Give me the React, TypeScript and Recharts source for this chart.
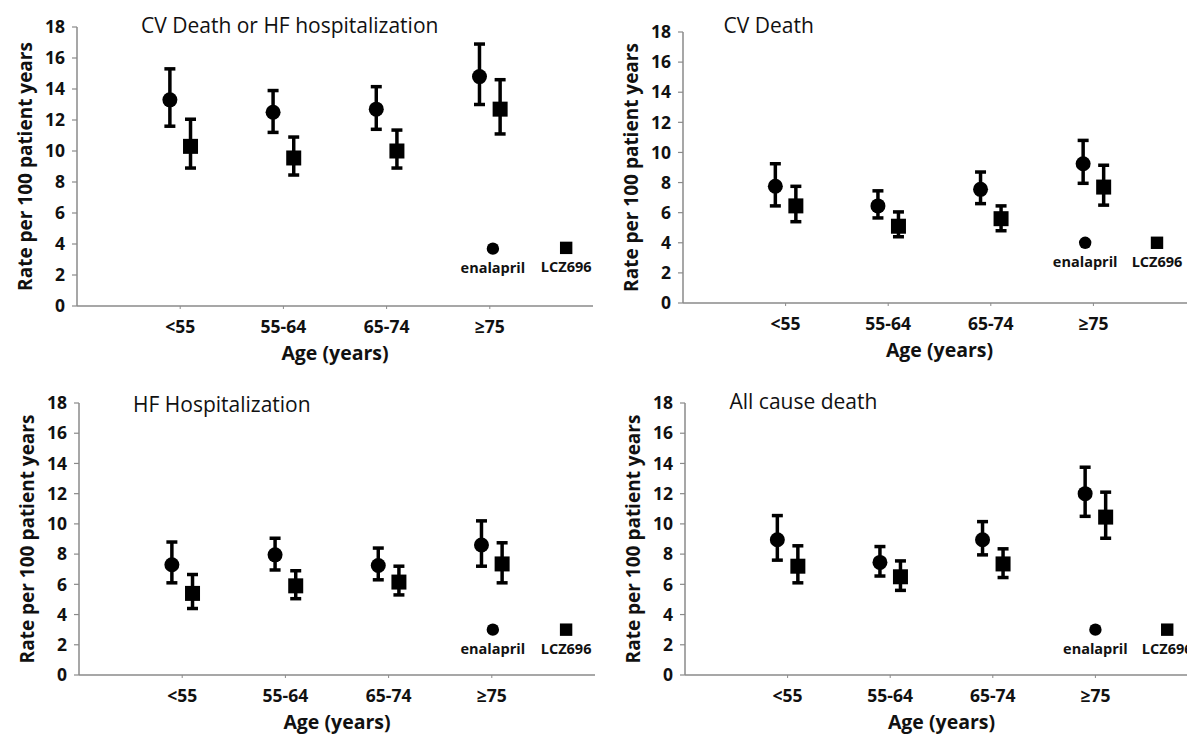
import React from "react"
import {
  ScatterChart,
  Scatter,
  XAxis,
  YAxis,
  ErrorBar,
  ReferenceDot,
  Label,
} from "recharts"

const FONT = "'Open Sans', 'Noto Sans', sans-serif"
const AXIS_GRAY = "#8a8a8a"

const ageGroups = ["<55", "55-64", "65-74", "≥75"]
const groupX = [1, 2, 3, 4]
const yTicks = [0, 2, 4, 6, 8, 10, 12, 14, 16, 18]

// CV death or HF hospitalization
const cvHfEnalapril = [13.3, 12.5, 12.7, 14.8]
const cvHfEnalaprilLow = [11.6, 11.2, 11.4, 13.0]
const cvHfEnalaprilHigh = [15.3, 13.9, 14.15, 16.9]
const cvHfLcz = [10.3, 9.55, 10.0, 12.7]
const cvHfLczLow = [8.9, 8.45, 8.9, 11.1]
const cvHfLczHigh = [12.05, 10.9, 11.35, 14.6]

// CV death
const cvEnalapril = [7.75, 6.45, 7.55, 9.25]
const cvEnalaprilLow = [6.45, 5.65, 6.6, 7.95]
const cvEnalaprilHigh = [9.25, 7.45, 8.7, 10.8]
const cvLcz = [6.45, 5.1, 5.6, 7.7]
const cvLczLow = [5.4, 4.4, 4.8, 6.5]
const cvLczHigh = [7.75, 6.05, 6.45, 9.15]

// HF hospitalization
const hfEnalapril = [7.3, 7.95, 7.25, 8.6]
const hfEnalaprilLow = [6.1, 6.95, 6.3, 7.2]
const hfEnalaprilHigh = [8.8, 9.05, 8.4, 10.2]
const hfLcz = [5.4, 5.9, 6.15, 7.35]
const hfLczLow = [4.4, 5.05, 5.3, 6.1]
const hfLczHigh = [6.65, 6.9, 7.2, 8.75]

// all cause death
const allEnalapril = [8.95, 7.45, 8.95, 12.0]
const allEnalaprilLow = [7.6, 6.55, 7.95, 10.5]
const allEnalaprilHigh = [10.55, 8.5, 10.15, 13.75]
const allLcz = [7.2, 6.5, 7.35, 10.45]
const allLczLow = [6.1, 5.6, 6.45, 9.05]
const allLczHigh = [8.55, 7.55, 8.35, 12.1]

function series(mid: number[], low: number[], high: number[], shift: number) {
  return mid.map((v, i) => ({
    x: groupX[i] + shift,
    y: v,
    err: [v - low[i], high[i] - v],
  }))
}

const panels = [
  {
    title: "CV Death or HF hospitalization",
    enal: series(cvHfEnalapril, cvHfEnalaprilLow, cvHfEnalaprilHigh, -0.1),
    lcz: series(cvHfLcz, cvHfLczLow, cvHfLczHigh, 0.1),
    legend: [[4.03, 3.7], [4.74, 3.75]],
    box: { left: 0, top: 0, width: 600, height: 370 },
    margin: { top: 27, right: 7, bottom: 4, left: 0 },
    yAxisWidth: 77,
    titlePos: [141, 32.5],
  },
  {
    title: "CV Death",
    enal: series(cvEnalapril, cvEnalaprilLow, cvEnalaprilHigh, -0.1),
    lcz: series(cvLcz, cvLczLow, cvLczHigh, 0.1),
    legend: [[3.92, 4.0], [4.62, 4.0]],
    box: { left: 600, top: 0, width: 610, height: 370 },
    margin: { top: 32, right: 14, bottom: 7, left: 0 },
    yAxisWidth: 83,
    titlePos: [123.5, 32.5],
  },
  {
    title: "HF Hospitalization",
    enal: series(hfEnalapril, hfEnalaprilLow, hfEnalaprilHigh, -0.1),
    lcz: series(hfLcz, hfLczLow, hfLczHigh, 0.1),
    legend: [[4.01, 3.0], [4.72, 3.0]],
    box: { left: 0, top: 370, width: 600, height: 365 },
    margin: { top: 33, right: 5, bottom: 0, left: 0 },
    yAxisWidth: 79,
    titlePos: [133, 41.5],
  },
  {
    title: "All cause death",
    enal: series(allEnalapril, allEnalaprilLow, allEnalaprilHigh, -0.1),
    lcz: series(allLcz, allLczLow, allLczHigh, 0.1),
    legend: [[4.0, 3.0], [4.7, 3.0]],
    box: { left: 600, top: 370, width: 612, height: 365 },
    margin: { top: 33, right: 14, bottom: 0, left: 0 },
    yAxisWidth: 85,
    titlePos: [129.5, 39],
  },
]

const tickStyle = { fill: "#111", fontSize: 17.5, fontWeight: 700, fontFamily: FONT }

const circleShape = (p: any) => <circle cx={p.cx} cy={p.cy} r={7.5} fill="#000" />
const squareShape = (p: any) => (
  <rect x={p.cx - 7.5} y={p.cy - 7.5} width={15} height={15} fill="#000" />
)

function legendMark(kind: "circle" | "square", text: string) {
  return (p: any) => (
    <g>
      {kind === "circle" ? (
        <circle cx={p.cx} cy={p.cy} r={6.2} fill="#000" />
      ) : (
        <rect x={p.cx - 6.2} y={p.cy - 6.2} width={12.4} height={12.4} fill="#000" />
      )}
      <text
        x={p.cx}
        y={p.cy + 24}
        textAnchor="middle"
        fontSize={14.5}
        fontWeight={700}
        fontFamily={FONT}
        fill="#111"
      >
        {text}
      </text>
    </g>
  )
}

function Panel({ cfg }: { cfg: (typeof panels)[number] }) {
  return (
    <div style={{ position: "absolute", left: cfg.box.left, top: cfg.box.top }}>
      <ScatterChart width={cfg.box.width} height={cfg.box.height} margin={cfg.margin}>
        <XAxis
          type="number"
          dataKey="x"
          domain={[0, 5]}
          ticks={groupX}
          interval={0}
          tickFormatter={(v: number) => ageGroups[v - 1]}
          height={60}
          tick={tickStyle}
          tickSize={3}
          tickMargin={12}
          axisLine={{ stroke: AXIS_GRAY, strokeWidth: 1.5 }}
          tickLine={{ stroke: AXIS_GRAY }}
        >
          <Label
            content={(props: any) => {
              const vb = props.viewBox
              return (
                <text
                  x={vb.x + vb.width / 2}
                  y={vb.y + 54}
                  textAnchor="middle"
                  fontSize={19.5}
                  fontWeight={700}
                  fontFamily={FONT}
                  fill="#111"
                >
                  Age (years)
                </text>
              )
            }}
          />
        </XAxis>
        <YAxis
          type="number"
          dataKey="y"
          domain={[0, 18]}
          ticks={yTicks}
          interval={0}
          width={cfg.yAxisWidth}
          tick={tickStyle}
          tickSize={5}
          tickMargin={7}
          axisLine={{ stroke: AXIS_GRAY, strokeWidth: 1.5 }}
          tickLine={{ stroke: AXIS_GRAY, strokeWidth: 1.2 }}
        >
          <Label
            content={(props: any) => {
              const vb = props.viewBox
              const cx = vb.x + vb.width - 52
              const cy = vb.y + vb.height / 2
              return (
                <text
                  x={cx}
                  y={cy}
                  transform={`rotate(-90 ${cx} ${cy})`}
                  textAnchor="middle"
                  dominantBaseline="central"
                  fontSize={19}
                  fontWeight={700}
                  fontFamily={FONT}
                  fill="#111"
                >
                  Rate per 100 patient years
                </text>
              )
            }}
          />
        </YAxis>
        <Scatter name="enalapril" data={cfg.enal} shape={circleShape} isAnimationActive={false}>
          <ErrorBar dataKey="err" direction="y" width={5.5} strokeWidth={3.5} stroke="#000" />
        </Scatter>
        <Scatter name="LCZ696" data={cfg.lcz} shape={squareShape} isAnimationActive={false}>
          <ErrorBar dataKey="err" direction="y" width={5.5} strokeWidth={3.5} stroke="#000" />
        </Scatter>
        <ReferenceDot
          x={cfg.legend[0][0]}
          y={cfg.legend[0][1]}
          r={6}
          ifOverflow="visible"
          shape={legendMark("circle", "enalapril")}
        />
        <ReferenceDot
          x={cfg.legend[1][0]}
          y={cfg.legend[1][1]}
          r={6}
          ifOverflow="visible"
          shape={legendMark("square", "LCZ696")}
        />
        <text
          x={cfg.titlePos[0]}
          y={cfg.titlePos[1]}
          fontSize={21}
          fontFamily={FONT}
          fill="#111"
        >
          {cfg.title}
        </text>
      </ScatterChart>
    </div>
  )
}

export default function App() {
  return (
    <div
      style={{
        position: "absolute",
        left: 0,
        top: 0,
        width: 1187,
        height: 735,
        overflow: "hidden",
        background: "#fff",
        fontFamily: FONT,
      }}
    >
      {panels.map((p) => (
        <Panel key={p.title} cfg={p} />
      ))}
    </div>
  )
}
